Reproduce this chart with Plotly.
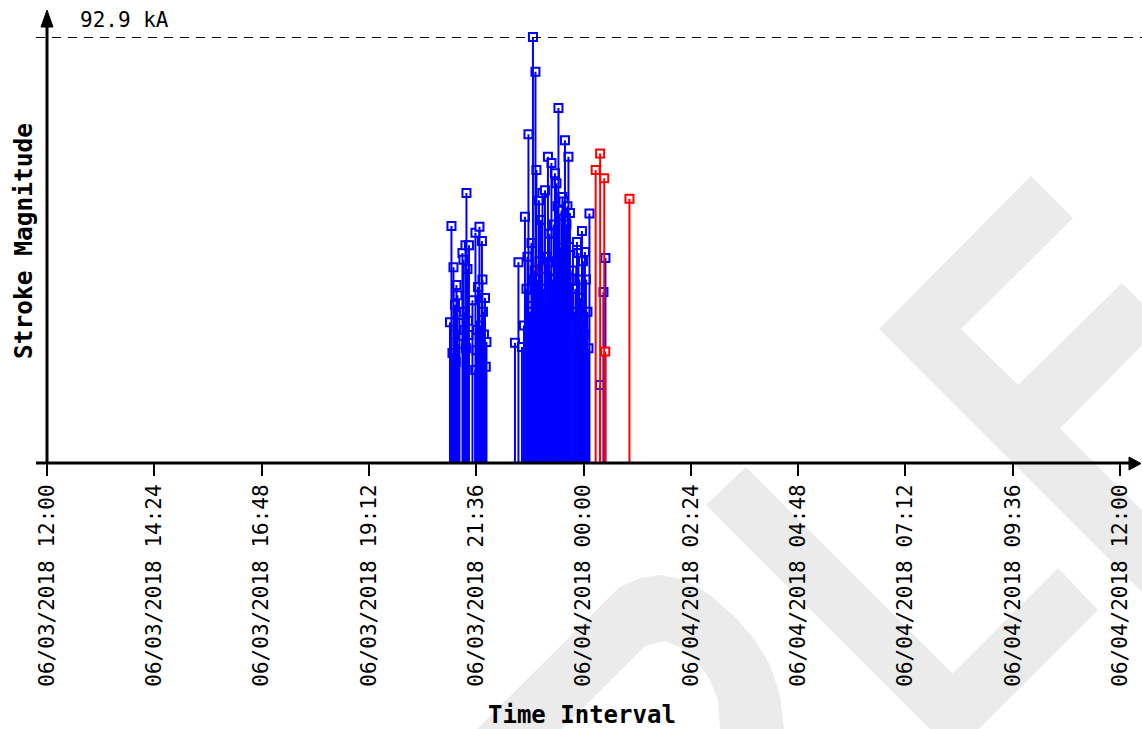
import plotly.graph_objects as go
from datetime import datetime, timedelta

# ---------------- data ----------------
blue_times = [
    "21:00:47", "21:02:47", "21:04:08", "21:05:29", "21:06:49", "21:07:29", "21:08:34",
    "21:09:30", "21:10:50", "21:12:11", "21:13:32", "21:17:33", "21:18:54", "21:19:34",
    "21:20:14", "21:21:35", "21:22:15", "21:22:56", "21:24:16", "21:24:56", "21:25:37",
    "21:26:17", "21:30:59", "21:34:40", "21:35:00", "21:36:21", "21:37:01", "21:38:22",
    "21:40:22", "21:41:27", "21:42:24", "21:43:42", "21:44:24", "21:45:04", "21:46:24",
    "21:47:46", "21:48:50", "21:49:46",
    "22:28:00", "22:32:42", "22:37:24", "22:40:05", "22:41:25", "22:43:26", "22:44:46",
    "22:46:07", "22:47:11", "22:48:08", "22:50:08", "22:51:05", "22:52:10", "22:53:30",
    "22:54:34", "22:55:31", "22:56:51", "22:57:55", "22:58:52", "23:00:13", "23:01:01",
    "23:01:33", "23:02:53", "23:04:55", "23:05:51", "23:06:55", "23:08:16", "23:10:57",
    "23:12:17", "23:13:22", "23:14:18", "23:15:38", "23:16:59", "23:18:04", "23:19:00",
    "23:20:20", "23:21:09", "23:21:41", "23:23:42", "23:24:22", "23:25:02", "23:26:23",
    "23:27:43", "23:28:23", "23:29:04", "23:30:25", "23:31:45", "23:32:25", "23:33:05",
    "23:34:10", "23:35:07", "23:36:26", "23:37:07", "23:38:28", "23:39:48", "23:40:52",
    "23:41:49", "23:43:50", "23:44:54", "23:45:50", "23:47:51", "23:49:11", "23:49:52",
    "23:51:13", "23:53:13", "23:54:17", "23:55:14", "23:56:34", "23:57:55", "23:59:15",
    "00:00:36", "00:01:56", "00:03:17", "00:05:18", "00:06:38", "00:07:59", "00:22:04",
    "00:26:46", "00:29:27",
]
blue_kA = [
    30.7, 51.7, 24.0, 42.7, 28.0, 34.5, 22.0,
    38.8, 36.6, 26.0, 32.3, 45.8, 44.3, 33.0,
    29.0, 47.5, 25.0, 58.9, 42.3, 31.0, 27.9,
    47.5, 35.5, 20.3, 50.2, 24.6, 29.0, 38.4,
    51.5, 22.0, 30.0, 48.4, 40.0, 33.0, 28.0,
    36.0, 21.0, 26.4,
    26.2, 43.8, 25.3, 30.0, 53.7, 38.0, 45.0,
    71.7, 28.0, 33.0, 48.0, 36.0, 92.9, 40.0,
    42.0, 85.3, 63.9, 31.0, 40.0, 57.3, 44.0,
    35.0, 53.0, 58.9, 38.0, 30.0, 59.5, 45.0,
    66.8, 34.0, 50.0, 42.0, 65.4, 30.0, 40.0,
    52.0, 36.0, 63.2, 61.0, 44.0, 56.0, 77.4,
    54.0, 32.0, 47.0, 55.0, 58.0, 45.0, 57.0,
    28.0, 70.4, 40.0, 52.0, 56.0, 66.8, 33.0,
    54.5, 38.0, 42.0, 47.1, 33.0, 38.0, 25.7,
    48.2, 45.8, 40.0, 30.0, 36.0, 50.6, 44.0,
    28.0, 46.0, 40.0, 33.0, 25.0, 54.4, 17.0,
    37.3, 44.7,
]
red_times = ["23:04:14", "23:09:36", "23:33:05", "00:16:18", "00:22:20", "00:27:50", "00:29:11", "01:01:39"]
red_kA = [42.3, 35.0, 20.3, 63.9, 67.5, 62.1, 24.3, 57.6]

tick_labels = [
    "06/03/2018 12:00", "06/03/2018 14:24", "06/03/2018 16:48", "06/03/2018 19:12",
    "06/03/2018 21:36", "06/04/2018 00:00", "06/04/2018 02:24", "06/04/2018 04:48",
    "06/04/2018 07:12", "06/04/2018 09:36", "06/04/2018 12:00",
]
x_title = "Time Interval"
y_title = "Stroke Magnitude"
unit = "kA"

# ---------------- helpers ----------------
START = datetime(2018, 6, 3, 12, 0)
END = START + timedelta(days=1)
MIDNIGHT = START + timedelta(hours=12)


def to_dt(s):
    h, m, sec = map(int, s.split(":"))
    d = START if h >= 12 else END
    return datetime(d.year, d.month, d.day, h, m, sec)


W, H = 1142, 729
PL, PR, PT, PB = 47, 1120, 37, 463      # plot area in pixels
PW = PR - PL
PH = PB - PT


def px(x):
    return (x - PL) / PW


def py(y):
    return (PB - y) / PH


def poly(pts):
    return "M " + " L ".join(f"{px(a):.5f},{py(b):.5f}" for a, b in pts) + " Z"


peak = max(blue_kA + red_kA)
FONT = "DejaVu Sans Mono"
BLUE, RED = "#0000ff", "#ff0000"

fig = go.Figure()


def add_markers(times, vals, color):
    if not times:
        return
    fig.add_trace(go.Scatter(
        x=[to_dt(t) for t in times], y=vals, mode="markers",
        marker=dict(symbol="square", size=8, color="white", line=dict(color=color, width=2)),
        cliponaxis=False, hoverinfo="skip", showlegend=False))


def add_stems(times, vals, color):
    if not times:
        return
    xs, ys = [], []
    for t, v in zip(times, vals):
        d = to_dt(t)
        xs += [d, d, None]
        ys += [0, v, None]
    fig.add_trace(go.Scatter(
        x=xs, y=ys, mode="lines", line=dict(color=color, width=2),
        cliponaxis=False, hoverinfo="skip", showlegend=False))


red_early = [(t, v) for t, v in zip(red_times, red_kA) if to_dt(t) < MIDNIGHT]
red_late = [(t, v) for t, v in zip(red_times, red_kA) if to_dt(t) >= MIDNIGHT]
re_t, re_v = [t for t, _ in red_early], [v for _, v in red_early]
rl_t, rl_v = [t for t, _ in red_late], [v for _, v in red_late]

add_markers(blue_times, blue_kA, BLUE)
add_markers(re_t, re_v, RED)
add_stems(re_t, re_v, RED)
add_stems(blue_times, blue_kA, BLUE)
add_markers(rl_t, rl_v, RED)
add_stems(rl_t, rl_v, RED)

# ---------------- watermark (decoration) ----------------
wm = "#ebebeb"
watermark = [
    [(1031, 176), (1073, 218), (961, 329), (1018, 385), (1122, 283), (1163, 324),
     (1060, 428.5), (1250, 618.5), (1200, 650), (879, 329)],
    [(746, 467), (952.5, 673.5), (1058, 568), (1098, 610), (954.5, 753.5), (706, 505)],
    [(477, 729), (560, 646.5), (619, 587.5), (640, 578), (660, 575), (685, 580), (710, 595),
     (735, 617), (755, 640), (770, 665), (780, 695), (784, 729), (720, 729), (718, 700),
     (710, 680), (698, 662), (682, 648), (665, 641), (645, 646), (562, 729)],
]
shapes = []
for pts in watermark:
    shapes.append(dict(type="path", xref="paper", yref="paper", path=poly(pts),
                       fillcolor=wm, line=dict(width=0), layer="below"))

# peak dashed line
shapes.append(dict(type="line", xref="paper", yref="y", x0=px(36), x1=px(1142), y0=peak, y1=peak,
                   line=dict(color="black", width=2, dash="9px,7px")))
# axes with arrows
shapes.append(dict(type="line", xref="paper", yref="paper", x0=px(36), x1=px(1131), y0=py(463), y1=py(463),
                   line=dict(color="black", width=3)))
shapes.append(dict(type="path", xref="paper", yref="paper",
                   path=poly([(1129, 457), (1141, 463.5), (1129, 470)]),
                   fillcolor="black", line=dict(color="black", width=1)))
shapes.append(dict(type="line", xref="paper", yref="paper", x0=px(47), x1=px(47), y0=py(463), y1=py(25),
                   line=dict(color="black", width=3)))
shapes.append(dict(type="path", xref="paper", yref="paper",
                   path=poly([(41, 27), (47, 10), (53, 27)]),
                   fillcolor="black", line=dict(color="black", width=1)))

annotations = [
    dict(text=f"{peak:.1f} {unit}", xref="paper", yref="paper", x=px(78), y=py(20),
         xanchor="left", yanchor="middle", showarrow=False,
         font=dict(family=FONT, size=21, color="black")),
    dict(text=f"<b>{x_title}</b>", xref="paper", yref="paper", x=px(581.5), y=py(715),
         xanchor="center", yanchor="middle", showarrow=False,
         font=dict(family=FONT, size=24, color="black")),
    dict(text=f"<b>{y_title}</b>", xref="paper", yref="paper", x=px(23), y=py(241),
         xanchor="center", yanchor="middle", showarrow=False, textangle=-90,
         font=dict(family=FONT, size=24.5, color="black")),
]

tickvals = [START + timedelta(minutes=144 * i) for i in range(len(tick_labels))]

fig.update_layout(
    width=W, height=H,
    margin=dict(l=PL, r=W - PR, t=PT, b=H - PB, pad=0),
    paper_bgcolor="white", plot_bgcolor="rgba(0,0,0,0)",
    shapes=shapes, annotations=annotations,
    xaxis=dict(type="date", range=[START, END], tickvals=tickvals, ticktext=tick_labels,
               tickangle=-90, tickfont=dict(family=FONT, size=21, color="black"),
               ticks="outside", ticklen=12, tickwidth=2, tickcolor="black",
               showgrid=False, zeroline=False, showline=False, automargin=False, fixedrange=True),
    yaxis=dict(range=[0, peak], showticklabels=False, ticks="", showgrid=False,
               zeroline=False, showline=False, automargin=False, fixedrange=True),
    showlegend=False,
)

# remove the default page margin so the figure sits at the window's top-left corner
fig.write_html(
    "out.html",
    config={"displayModeBar": False, "staticPlot": True},
    post_script="document.body.style.margin='0px';document.documentElement.style.overflow='hidden';",
)
